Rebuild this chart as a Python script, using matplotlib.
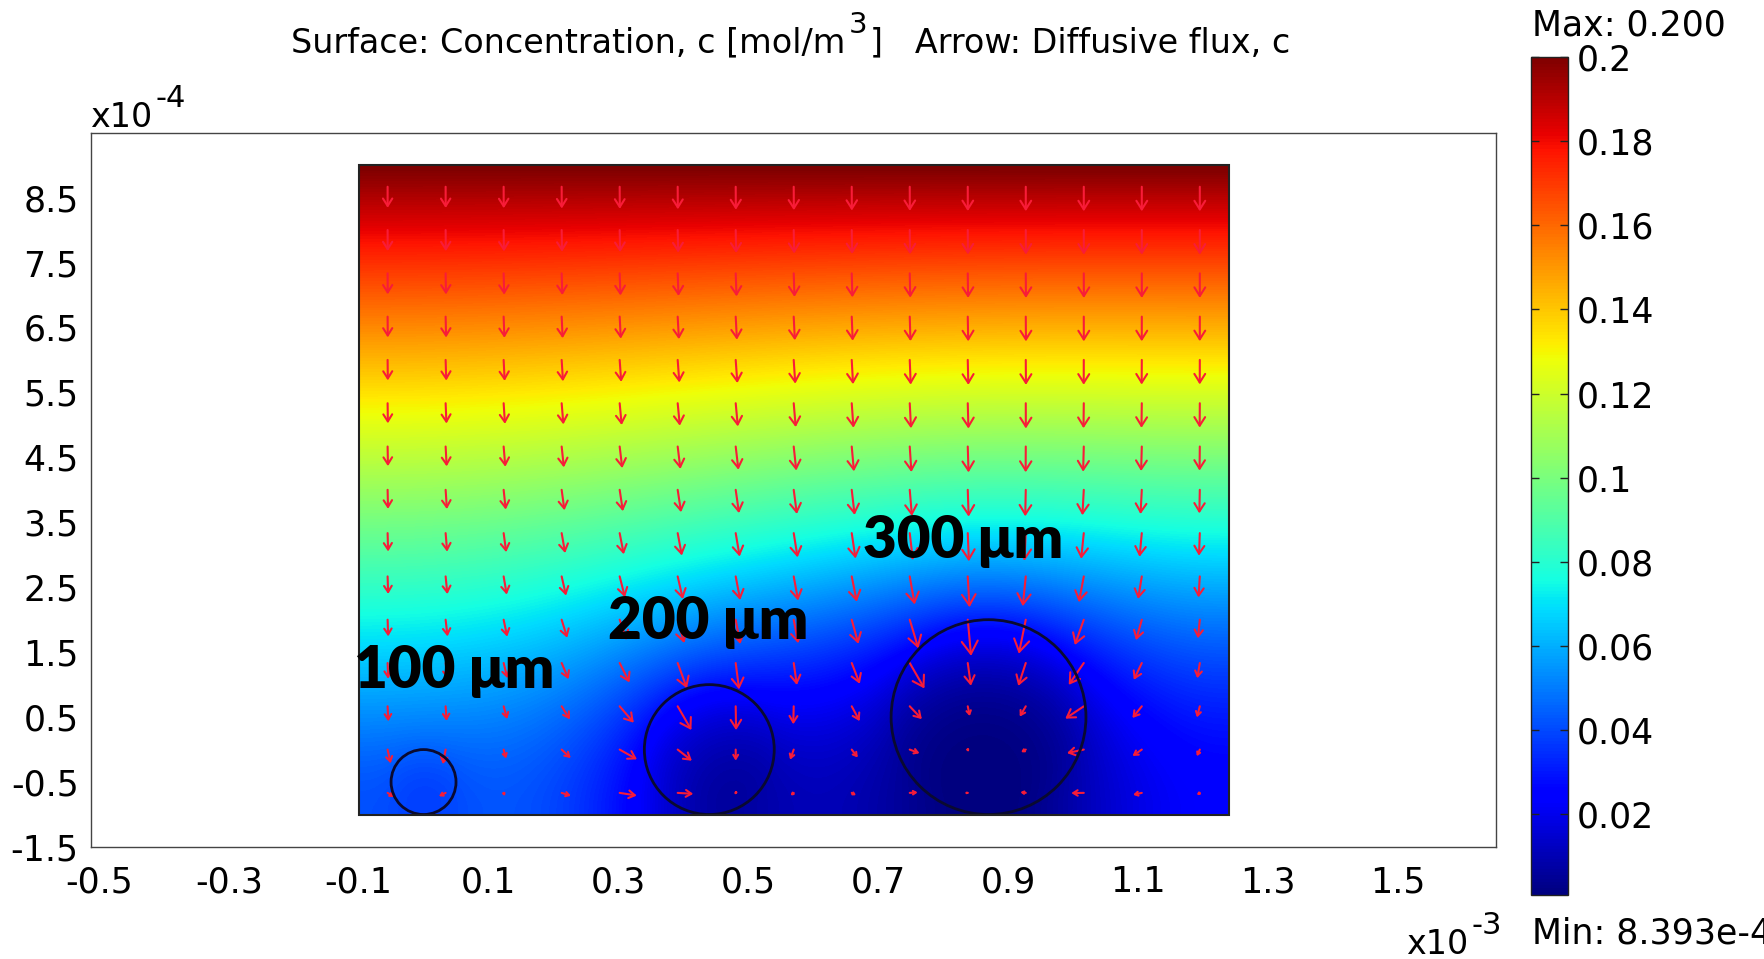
import numpy as np
import matplotlib
matplotlib.use("Agg")
import matplotlib.pyplot as plt
from matplotlib.patches import Circle, Rectangle

plt.rcParams['font.family'] = ['DejaVu Sans Condensed', 'DejaVu Sans']

# domain (m)
x_left, x_right = -1.0e-4, 1.24e-3
y_bottom, y_top = -1.0e-4, 9.0e-4

# consuming cells: centres and radii (m)
cell_x = [0.0, 0.44e-3, 0.87e-3]
cell_y = [-0.5e-4, 0.0, 0.5e-4]
cell_r = [0.5e-4, 1.0e-4, 1.5e-4]
cell_labels = ["100 μm", "200 μm", "300 μm"]
label_x = [-0.107e-3, 0.284e-3, 0.676e-3]
label_y = [0.947e-4, 1.709e-4, 2.956e-4]

# concentrations (mol/m^3)
c_bulk = 0.2
c_max = 0.200
c_min = 8.393e-4

# Michaelis-Menten uptake inside the cells, Vmax/D and Km
uptake = 3.7e6
k_m = 0.003

x_ticks = [-0.5, -0.3, -0.1, 0.1, 0.3, 0.5, 0.7, 0.9, 1.1, 1.3, 1.5]       # x10^-3
y_ticks = [-1.5, -0.5, 0.5, 1.5, 2.5, 3.5, 4.5, 5.5, 6.5, 7.5, 8.5]        # x10^-4
cbar_ticks = [0.02, 0.04, 0.06, 0.08, 0.1, 0.12, 0.14, 0.16, 0.18, 0.2]

n_arrows = 15
arrow_scale = 1.7e-7
arrow_color = '#f81c38'

# ---- steady diffusion with uptake, red-black SOR on a node grid ----
h = 1.0e-5
nx = int(round((x_right - x_left) / h)) + 1
ny = int(round((y_top - y_bottom) / h)) + 1
xs = np.linspace(x_left, x_right, nx)
ys = np.linspace(y_bottom, y_top, ny)
X, Y = np.meshgrid(xs, ys)

inside = np.zeros(X.shape, dtype=bool)
for cx, cy, r in zip(cell_x, cell_y, cell_r):
    inside |= (X - cx) ** 2 + (Y - cy) ** 2 <= r ** 2

c = c_bulk * (Y - y_bottom) / (y_top - y_bottom)
ii, jj = np.meshgrid(np.arange(nx), np.arange(ny))
red = (ii + jj) % 2 == 0
ah2 = uptake * h * h
omega = 1.94
for it in range(4000):
    for mask in (red, ~red):
        p = np.pad(c, 1, mode='reflect')   # no-flux sides and bottom
        s = p[:-2, 1:-1] + p[2:, 1:-1] + p[1:-1, :-2] + p[1:-1, 2:]
        new = s / (4.0 + inside * ah2 / (k_m + c))
        c = np.where(mask, c + omega * (new - c), c)
        c = np.maximum(c, 0.0)
        c[-1, :] = c_bulk

dcdy, dcdx = np.gradient(c, h)


def sample(field, px, py):
    fx = (px - x_left) / h
    fy = (py - y_bottom) / h
    i0 = np.floor(fx).astype(int)
    j0 = np.floor(fy).astype(int)
    tx = fx - i0
    ty = fy - j0
    return (field[j0, i0] * (1 - tx) * (1 - ty) + field[j0, i0 + 1] * tx * (1 - ty)
            + field[j0 + 1, i0] * (1 - tx) * ty + field[j0 + 1, i0 + 1] * tx * ty)


# ---- figure ----
W, H, dpi = 1764, 959, 100
fig = plt.figure(figsize=(W / dpi, H / dpi), dpi=dpi)
ax = fig.add_axes([0.0510, 0.1168, 0.7979, 0.7449])
xlim = (-0.512e-3, 1.652e-3)
ylim = (-1.5e-4, 9.5e-4)
ax.set_xlim(*xlim)
ax.set_ylim(*ylim)
ax.set_aspect('equal')

im = ax.imshow(c, extent=[x_left, x_right, y_bottom, y_top], origin='lower',
               cmap='jet', vmin=c_min, vmax=c_max, interpolation='bilinear', zorder=1)

px_per_m = 0.7979 * W / (xlim[1] - xlim[0])
ax_pts = x_left + (np.arange(n_arrows) + 0.5) * (x_right - x_left) / n_arrows
ay_pts = y_bottom + (np.arange(n_arrows) + 0.5) * (y_top - y_bottom) / n_arrows
AX, AY = np.meshgrid(ax_pts, ay_pts)
U = -sample(dcdx, AX, AY) * arrow_scale
V = -sample(dcdy, AX, AY) * arrow_scale
for x0, y0, u, v in zip(AX.ravel(), AY.ravel(), U.ravel(), V.ravel()):
    L_px = np.hypot(u, v) * px_per_m
    if L_px < 1.0:
        continue
    ax.annotate('', xy=(x0 + u, y0 + v), xytext=(x0, y0),
                arrowprops=dict(arrowstyle='->,head_length=0.35,head_width=0.22',
                                color=arrow_color, lw=1.5, shrinkA=0, shrinkB=0,
                                mutation_scale=L_px * 72 / dpi),
                annotation_clip=False, zorder=3)

for cx, cy, r in zip(cell_x, cell_y, cell_r):
    ax.add_patch(Circle((cx, cy), r, fill=False, ec='#0a0a30', lw=2, zorder=4))
ax.add_patch(Rectangle((x_left, y_bottom), x_right - x_left, y_top - y_bottom,
                       fill=False, ec='#222222', lw=1.5, zorder=4))

for lx, ly, txt in zip(label_x, label_y, cell_labels):
    ax.text(lx, ly, txt, fontsize=42, fontweight='heavy', family=['Lato', 'DejaVu Sans'],
            ha='left', va='baseline', color='black', zorder=5)

ax.set_xticks(np.array(x_ticks) * 1e-3)
ax.set_xticklabels([f"{v:g}" for v in x_ticks])
ax.set_yticks(np.array(y_ticks) * 1e-4)
ax.set_yticklabels([f"{v:g}" for v in y_ticks])
ax.tick_params(length=0, labelsize=25)
ax.tick_params(axis='x', pad=13)
ax.tick_params(axis='y', pad=9)
for lab in ax.get_yticklabels():
    lab.set_va('center_baseline')
for sp in ax.spines.values():
    sp.set_color('#444444')
    sp.set_linewidth(1.0)

renderer = fig.canvas.get_renderer()


def raised_text(x_px, base_px, parts, size=24, sup_size=21, rise=20, gap=3):
    """Write text pieces left to right; odd pieces are superscripts."""
    x = x_px
    for k, part in enumerate(parts):
        sup = k % 2 == 1
        t = fig.text(x / W, 1 - (base_px - (rise if sup else 0)) / H, part,
                     fontsize=sup_size if sup else size, ha='left', va='baseline')
        x = t.get_window_extent(renderer).x1 + (gap if sup or k + 1 < len(parts) else 0)
    return x


# axis multipliers
raised_text(90, 127, ["x10", "-4"], size=24, sup_size=22)
raised_text(1406, 954, ["x10", "-3"], size=24, sup_size=22)

# title, centred over the axes
title_parts = ["Surface: Concentration, c [mol/m", "3", "]   Arrow: Diffusive flux, c"]
probe = [fig.text(0, 0, p, fontsize=24 if k % 2 == 0 else 21) for k, p in enumerate(title_parts)]
width = sum(t.get_window_extent(renderer).width for t in probe) + 6
for t in probe:
    t.remove()
raised_text(791 - width / 2, 52, title_parts, size=24, sup_size=21, rise=19)

cax = fig.add_axes([1531 / W, 1 - 895 / H, 37 / W, 838 / H])
cb = fig.colorbar(im, cax=cax, ticks=cbar_ticks)
cb.ax.set_yticklabels([f"{v:g}" for v in cbar_ticks])
cb.ax.tick_params(direction='in', left=True, right=True, length=6, width=1,
                  color='#222222', labelsize=25, pad=6)
for lab in cb.ax.get_yticklabels():
    lab.set_va('center_baseline')
cb.outline.set_edgecolor('#222222')
cb.outline.set_linewidth(1.0)

fig.text(1532 / W, 1 - 25 / H, f"Max: {c_max:.3f}", fontsize=25, ha='left', va='center')
fig.text(1532 / W, 1 - 934 / H, f"Min: {c_min:.3e}".replace("e-04", "e-4"),
         fontsize=25, ha='left', va='center')

fig.savefig("out.png", dpi=dpi)
